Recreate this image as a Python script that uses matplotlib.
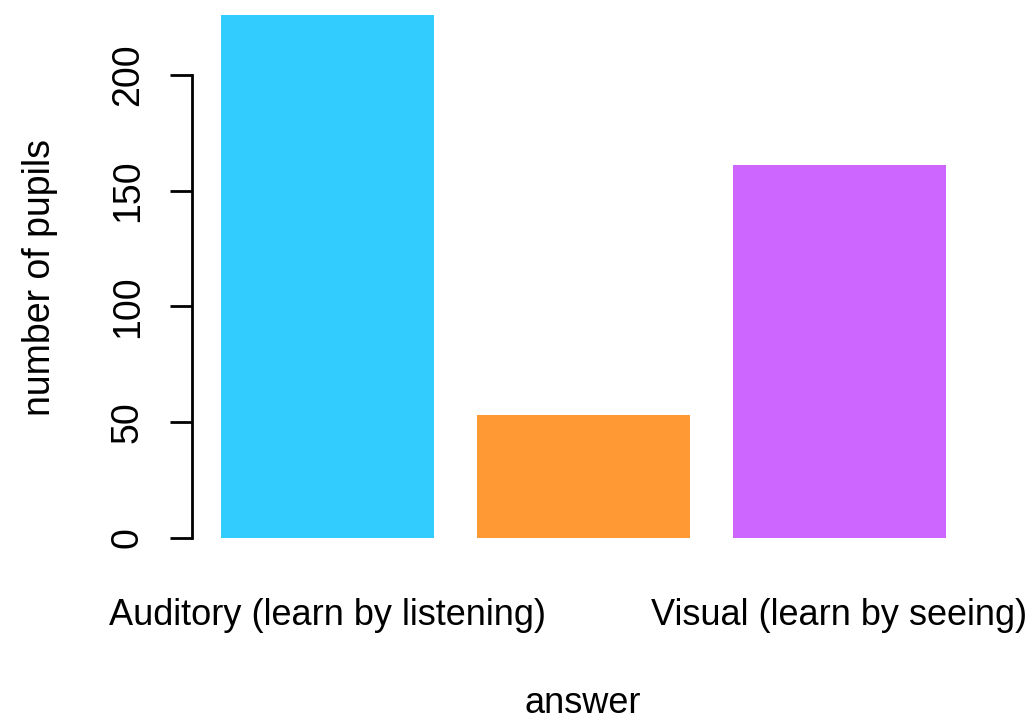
import matplotlib
matplotlib.use("Agg")
import matplotlib.pyplot as plt
from matplotlib.transforms import blended_transform_factory

categories = ["Auditory (learn by listening)", "Kinesthetic (learn by doing)", "Visual (learn by seeing)"]
shown_labels = ["Auditory (learn by listening)", "", "Visual (learn by seeing)"]
counts = [226, 53, 161]
colors = ["#33CCFF", "#FF9933", "#CC66FF"]
yticks = [0, 50, 100, 150, 200]

plt.rcParams['font.family'] = ['Liberation Sans', 'DejaVu Sans']

W, H = 1036, 722
fig = plt.figure(figsize=(W/100, H/100), dpi=100)
ax = fig.add_axes([191.5/W, (H-558.6)/H, (975-191.5)/W, 558.6/H])

width = 1.0
space = 0.2
lefts = [space + i*(width+space) for i in range(len(counts))]
centers = [l + width/2 for l in lefts]
ax.bar(centers, counts, width=width, color=colors, edgecolor='none')

ax.set_xlim(0.064, 3.736)
ax.set_ylim(-9.04, 232.4)

for s in ['top', 'right', 'bottom']:
    ax.spines[s].set_visible(False)
ax.spines['left'].set_bounds(0, 200)
ax.spines['left'].set_linewidth(2)

ax.set_yticks(yticks)
ax.set_yticklabels([str(v) for v in yticks], rotation=90, va='center', fontsize=27)
ax.tick_params(axis='y', length=16, width=2, pad=17)

ax.set_xticks([])
tr = blended_transform_factory(ax.transData, fig.transFigure)
for c, lab in zip(centers, shown_labels):
    ax.text(c, 1 - 625/H, lab, transform=tr, ha='center', va='baseline', fontsize=26, clip_on=False)

trx = blended_transform_factory(ax.transAxes, fig.transFigure)
ax.text(0.5, 1 - 713/H, "answer", transform=trx, ha='center', va='baseline', fontsize=26, clip_on=False)
fig.text(50/W, 1 - 277.5/H, "number of pupils", rotation=90, rotation_mode='anchor',
         ha='center', va='baseline', fontsize=27)

fig.savefig("out.png", dpi=100)
